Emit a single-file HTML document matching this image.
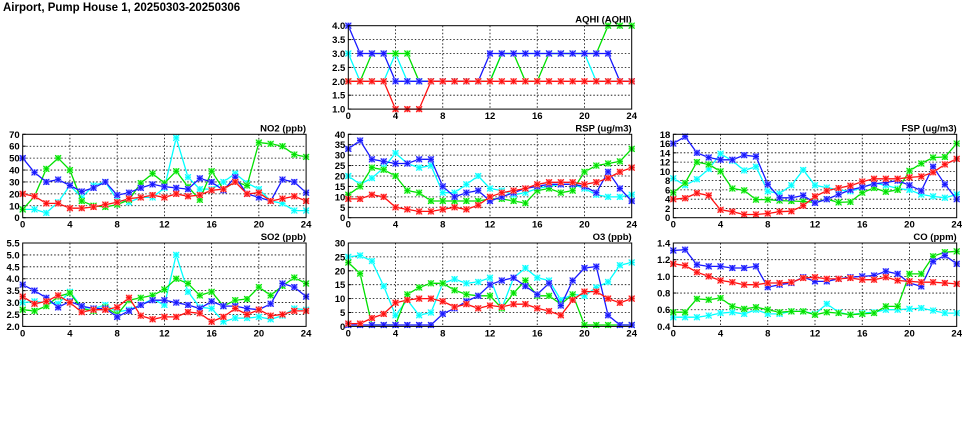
<!DOCTYPE html>
<html><head><meta charset="utf-8"><style>
html,body{margin:0;padding:0;background:#fff;width:975px;height:447px;overflow:hidden}
svg{display:block}
text{font-family:"Liberation Sans",sans-serif;font-weight:bold;fill:#000}
</style></head><body>
<svg id="s" width="975" height="447" xmlns="http://www.w3.org/2000/svg">
<text x="3" y="11" font-size="11.5">Airport, Pump House 1, 20250303-20250306</text>
</svg>
<script>
const C={b:"#1818ff",c:"#00ffff",g:"#00e000",r:"#ff1010"};
const L={b:"#9a9aff",c:"#aaffff",g:"#99ff99",r:"#ff9999"};
const P=[
{t:"AQHI (AQHI)",x:348.3,y:25.7,min:1,max:4,st:0.5,d:1,s:{
c:[3,2,2,2,3,2,2,2,2,2,2,2,2,3,3,3,3,3,3,3,3,2,2,2,2],
g:[2,2,3,3,3,3,2,2,2,2,2,2,2,3,3,2,2,3,3,3,3,3,4,4,4],
b:[4,3,3,3,2,2,2,2,2,2,2,2,3,3,3,3,3,3,3,3,3,3,3,2,2],
r:[2,2,2,2,1,1,1,2,2,2,2,2,2,2,2,2,2,2,2,2,2,2,2,2,2]}},
{t:"NO2 (ppb)",x:22.7,y:134.3,min:0,max:70,st:10,d:0,s:{
c:[7,7,4,13,27,17,27,30,15,13,17,17,25,67,34,24,24,30,37,29,24,14,12,6,6],
g:[7,18,41,50,40,14,10,9,11,15,29,37,29,39,26,15,39,24,30,27,63,62,60,53,51],
b:[50,38,30,32,27,22,25,30,19,21,25,28,26,25,24,33,30,23,34,20,17,14,32,30,21],
r:[20,18,12,12,8,8,9,11,13,16,17,19,17,20,18,19,23,24,30,20,21,14,16,18,14]}},
{t:"RSP (ug/m3)",x:348.3,y:134.3,min:0,max:40,st:5,d:0,s:{
c:[20,16,19,24,31,26,24,25,12,12,16,20,14,13,11,12,14,15,16,16,14,11,10,10,11],
g:[11,15,24,23,20,13,12,8,8,8,8,8,9,9,8,7,13,14,12,13,22,25,26,27,33],
b:[33,37,28,27,26,26,28,28,15,10,12,13,8,10,12,14,15,16,16,16,15,12,22,14,8],
r:[9,9,11,10,5,4,3,3,4,5,4,6,10,12,13,14,16,17,17,17,16,17,19,22,24]}},
{t:"FSP (ug/m3)",x:673.3,y:134.3,min:0,max:18,st:2,d:0,s:{
c:[8.5,7,8.3,10.5,13.8,12.3,10.2,11,5.7,5.2,7,10.3,7,6.5,6,5.7,6.5,7.5,7,6.3,6,5,4.6,4.3,5],
g:[5.4,7.5,12,11.5,10,6.3,5.9,3.9,3.9,3.7,3.6,3.5,3.3,4,3.3,3.4,5.4,6.4,5.6,6,10.1,11.7,13,13.1,16],
b:[16,17.5,14,13,12.5,12.5,13.5,13.2,7.2,4.3,4.3,4.8,3.2,4,5,6,6.6,7.3,7.6,8,7,5.8,11,7.2,4],
r:[4,4.2,5.3,4.8,1.7,1.3,0.7,0.7,0.9,1.3,1.4,2.6,4.6,5.8,6.4,6.9,7.8,8.4,8.4,8.4,8.7,8.9,9.8,11.5,12.7]}},
{t:"SO2 (ppb)",x:22.7,y:243,min:2,max:5.5,st:0.5,d:1,s:{
c:[3.0,3.05,3.0,2.95,3.45,2.8,2.75,2.9,2.6,2.7,2.9,3.15,2.9,5.0,3.45,2.8,2.75,2.2,2.35,2.35,2.4,2.3,2.45,2.75,2.7],
g:[2.7,2.65,2.85,3.25,3.4,2.75,2.65,2.8,2.5,3.1,3.2,3.3,3.55,4.0,3.8,3.3,3.45,2.85,3.1,3.15,3.65,3.3,3.7,4.05,3.8],
b:[3.75,3.5,3.2,2.8,3.05,2.85,2.75,2.75,2.4,2.65,2.9,3.1,3.1,3.0,2.9,2.75,3.05,2.85,2.85,2.75,2.7,2.95,3.8,3.65,3.25],
r:[3.25,2.95,3.05,3.3,3.0,2.6,2.7,2.7,2.8,3.2,2.45,2.3,2.4,2.4,2.6,2.55,2.2,2.4,2.75,2.5,2.7,2.45,2.5,2.65,2.65]}},
{t:"O3 (ppb)",x:348.3,y:243,min:0,max:30,st:5,d:0,s:{
c:[25,25.5,23.5,14.5,4,9.5,4,5,15.5,17,15.5,16,17.5,6.5,17.5,21,17.5,16.5,9.5,11.5,11,14,16,22,23],
g:[23,19,0.5,0.5,0.5,11.5,14,15.5,15.5,13,11.5,11,11,6.5,12,16.5,11,11,8,11.5,0.5,0.5,0.5,0.5,0.5],
b:[0.5,0.5,0.5,0.5,0.5,0.5,0.5,0.5,4.5,6.5,9,11,15,16.5,17.5,14.5,11.5,15.5,7.5,16.5,21,21.5,4,0.5,0.5],
r:[1,1,3,4.5,8.5,9.5,10,10,9,7,8,6.5,7.5,7,8,8,6.5,5.5,4,9.5,12.5,12.5,10,8.5,10]}},
{t:"CO (ppm)",x:673.3,y:243,min:0.4,max:1.4,st:0.2,d:1,s:{
c:[0.51,0.51,0.51,0.53,0.56,0.57,0.55,0.6,0.55,0.55,0.58,0.58,0.55,0.67,0.57,0.54,0.56,0.57,0.6,0.6,0.61,0.62,0.59,0.56,0.56],
g:[0.57,0.57,0.73,0.72,0.74,0.64,0.61,0.63,0.6,0.57,0.58,0.58,0.54,0.57,0.56,0.54,0.55,0.56,0.64,0.64,1.03,1.03,1.24,1.29,1.3],
b:[1.31,1.32,1.14,1.12,1.12,1.1,1.1,1.12,0.87,0.9,0.92,0.99,0.94,0.94,0.97,0.99,1.0,1.01,1.06,1.03,0.92,0.88,1.18,1.25,1.15],
r:[1.15,1.13,1.05,1.0,0.95,0.93,0.9,0.9,0.92,0.92,0.93,0.98,0.99,0.97,0.97,0.98,0.96,0.96,0.99,0.95,0.94,0.93,0.93,0.92,0.91]}}
];
const W=283.4,H=83.4;let o="";
for(const p of P){
 const X=i=>p.x+i*W/24, Y=v=>p.y+H-(v-p.min)/(p.max-p.min)*H;
 const n=Math.round((p.max-p.min)/p.st);
 for(let k=0;k<=n;k++){const v=p.min+k*p.st,y=Y(v);
  if(k>0&&k<n)o+=`<line x1="${p.x}" x2="${p.x+W}" y1="${y}" y2="${y}" stroke="#000" stroke-width="0.8" stroke-dasharray="1.5,2"/>`;
  o+=`<line x1="${p.x}" x2="${p.x+3}" y1="${y}" y2="${y}" stroke="#000"/>`;
  o+=`<text x="${p.x-3}" y="${y+3.5}" font-size="9.5" text-anchor="end">${v.toFixed(p.d)}</text>`;}
 for(let h=0;h<=24;h+=4){const x=X(h);
  if(h>0&&h<24)o+=`<line x1="${x}" x2="${x}" y1="${p.y}" y2="${p.y+H}" stroke="#000" stroke-width="0.8" stroke-dasharray="1.5,2"/>`;
  o+=`<text x="${x}" y="${p.y+H+10}" font-size="9.5" text-anchor="middle">${h}</text>`;}
 o+=`<text x="${p.x+W}" y="${p.y-3}" font-size="9.5" text-anchor="end">${p.t}</text>`;
 for(const k of ["c","g","b","r"]){const a=p.s[k];
  o+=`<polyline fill="none" stroke="${C[k]}" stroke-width="1.3" points="${a.map((v,i)=>X(i).toFixed(1)+","+Y(v).toFixed(1)).join(" ")}"/>`;
  for(let i=0;i<a.length;i++){const x=X(i),y=Y(a[i]);
   o+=`<rect x="${x-3}" y="${y-3}" width="6" height="6" fill="${L[k]}"/><path d="M${x-3} ${y-3}L${x+3} ${y+3}M${x+3} ${y-3}L${x-3} ${y+3}M${x} ${y-3}V${y+3}M${x-3} ${y}H${x+3}" stroke="${C[k]}" stroke-width="1"/>`;}
 }
 o+=`<rect x="${p.x}" y="${p.y}" width="${W}" height="${H}" fill="none" stroke="#000" stroke-width="1"/>`;
}
document.getElementById("s").insertAdjacentHTML("beforeend",o);
</script>
</body></html>
